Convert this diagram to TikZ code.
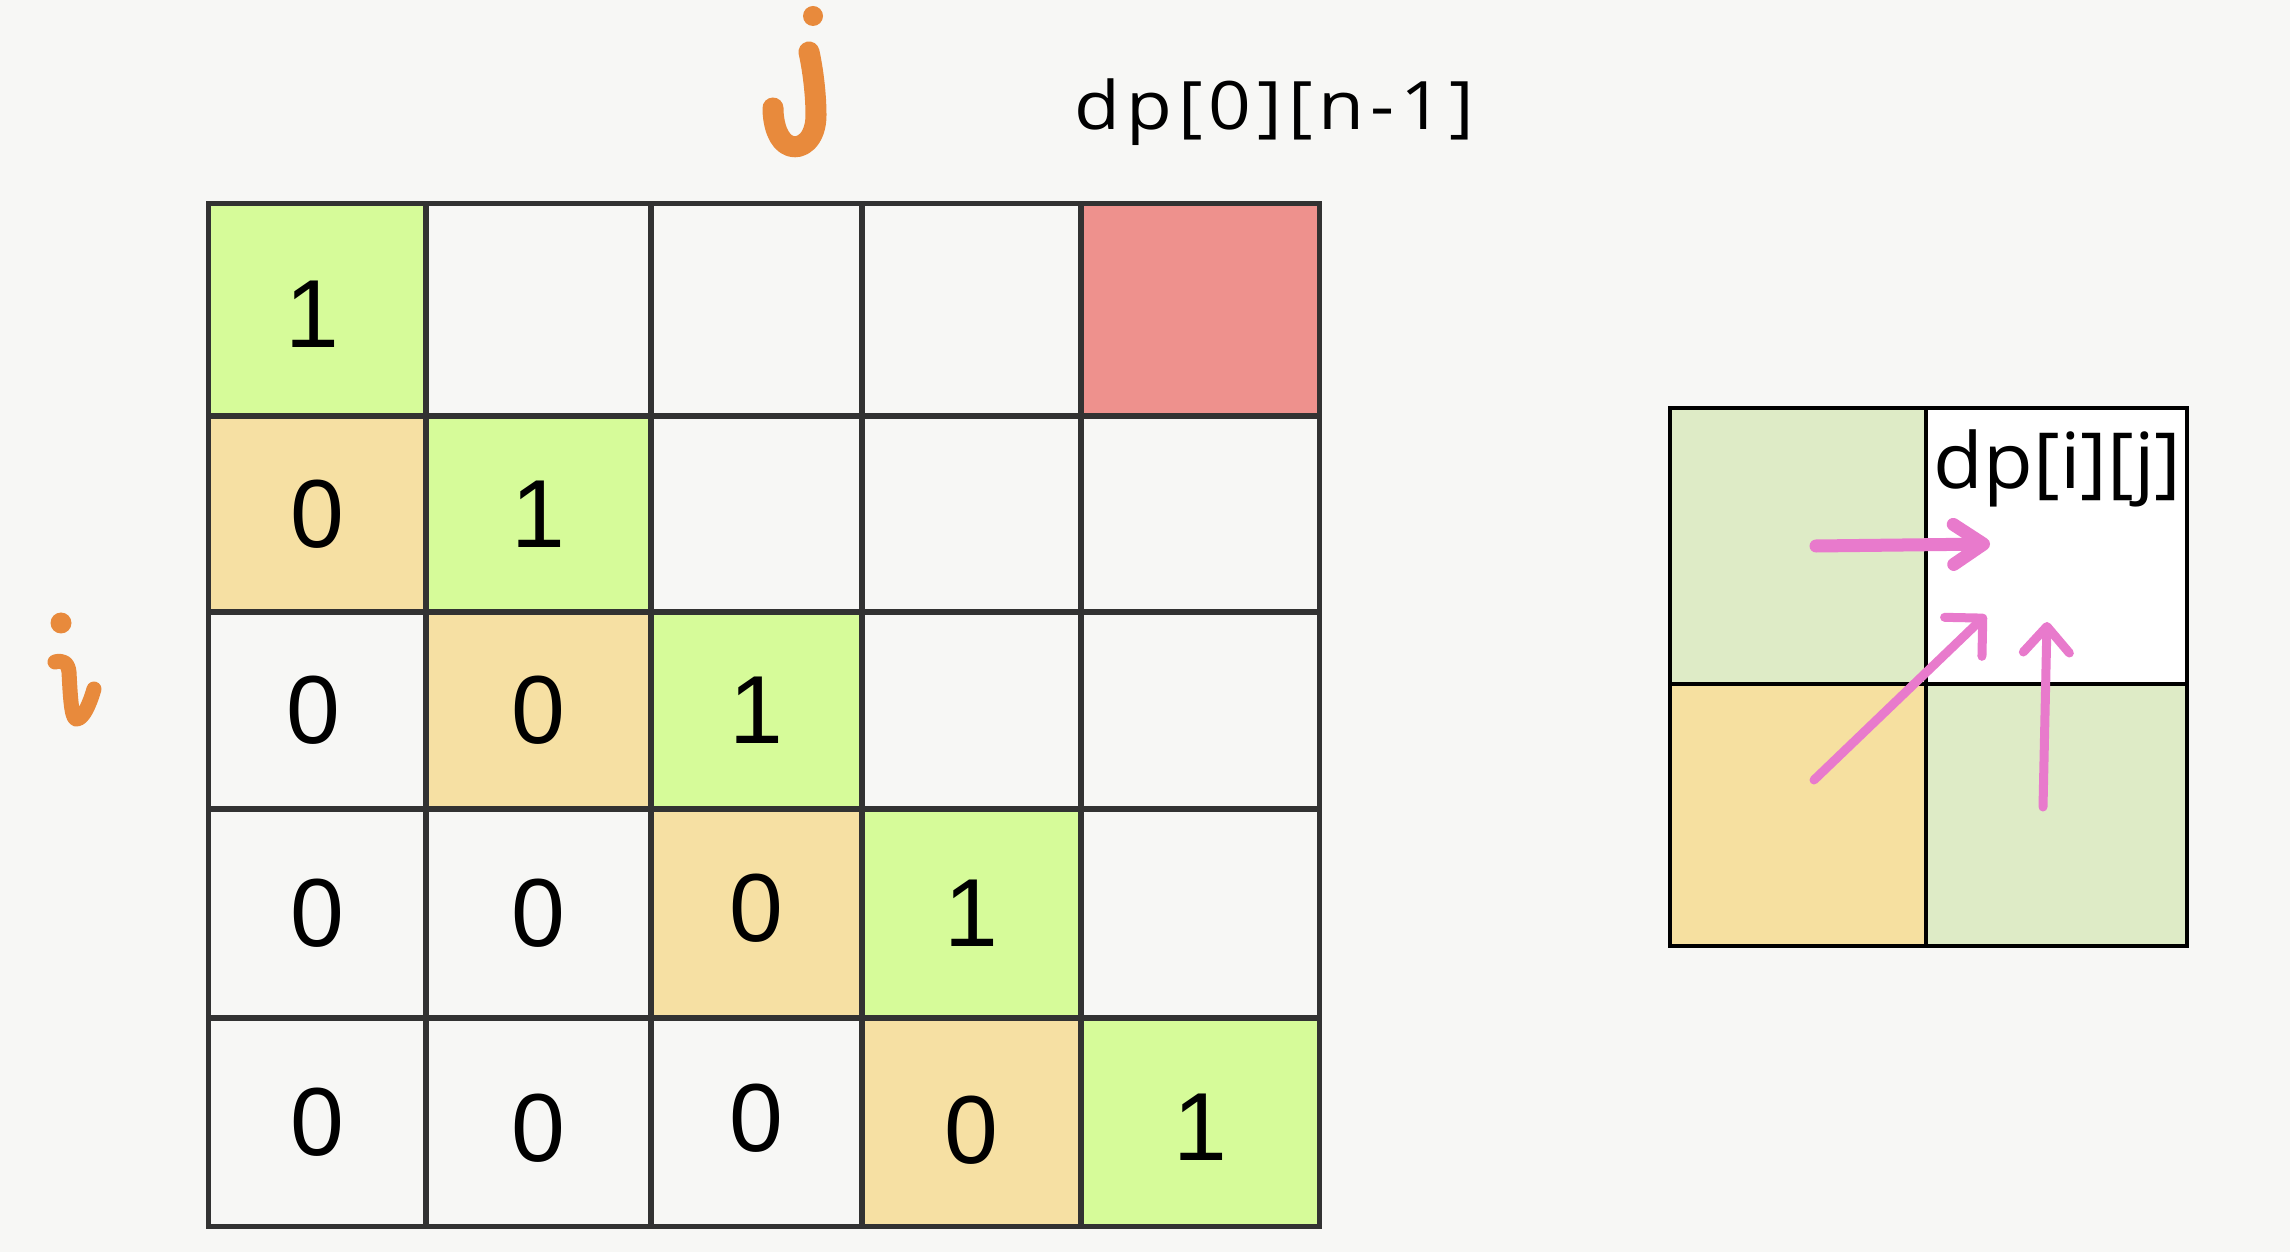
\documentclass[tikz,border=0pt]{standalone}
\usepackage{fontspec}
\setmainfont{Liberation Sans}
\newfontfamily\dpfont{Open Sans}
\newfontfamily\dpfontsp[LetterSpace=8]{Open Sans}
\usetikzlibrary{arrows.meta}
\definecolor{bgc}{RGB}{247,247,245}
\definecolor{gridc}{RGB}{50,50,50}
\definecolor{lgreen}{RGB}{214,251,153}
\definecolor{ltan}{RGB}{246,224,163}
\definecolor{lred}{RGB}{238,145,141}
\definecolor{sgreen}{RGB}{222,235,198}
\definecolor{stan}{RGB}{246,224,160}
\definecolor{pinkc}{RGB}{232,122,204}
\definecolor{orangec}{RGB}{232,138,60}
\tikzset{
  cellbox/.style={draw=gridc, line width=0.05cm, inner sep=0pt, fill=none},
  digit/.style={inner sep=0pt, font=\fontsize{27.5}{32}\selectfont, text=black},
  scell/.style={draw=black, line width=0.045cm, inner sep=0pt},
  pinkline/.style={draw=pinkc, line cap=round, line join=round},
  handstroke/.style={draw=orangec, line cap=round, line join=round}
}
\begin{document}
\begin{tikzpicture}[x=0.01cm,y=-0.01cm]
\fill[bgc] (0,0) rectangle (2290,1252);
\useasboundingbox (0,0) rectangle (2290,1252);
% coloured cells of the main table
\fill[lgreen] (209,204) rectangle (426,416);
\fill[lgreen] (426,416) rectangle (651,612);
\fill[lgreen] (651,612) rectangle (862,809);
\fill[lgreen] (862,809) rectangle (1081,1018);
\fill[lgreen] (1081,1018) rectangle (1319,1226);
\fill[ltan] (209,416) rectangle (426,612);
\fill[ltan] (426,612) rectangle (651,809);
\fill[ltan] (651,809) rectangle (862,1018);
\fill[ltan] (862,1018) rectangle (1081,1226);
\fill[lred] (1081,204) rectangle (1319,416);
% grid of the main table
\foreach \c/\cx/\cw in {0/317.5/2.17,1/538.5/2.25,2/756.5/2.11,3/971.5/2.19,4/1200/2.38}
  \foreach \r/\ry/\rh in {0/310/2.12,1/514/1.96,2/710.5/1.97,3/913.5/2.09,4/1122/2.08}
    \node[cellbox, minimum width=\cw cm, minimum height=\rh cm] (c\r\c) at (\cx,\ry) {};
% digits
\node[digit] (d00) at ([xshift=-0.05cm,yshift=-0.04cm]c00) {1};
\node[digit] (d10) at (c10) {0};
\node[digit] (d11) at (c11) {1};
\node[digit] (d20) at ([xshift=-0.04cm]c20) {0};
\node[digit] (d21) at (c21) {0};
\node[digit] (d22) at (c22) {1};
\node[digit] (d30) at (c30) {0};
\node[digit] (d31) at (c31) {0};
\node[digit] (d32) at ([yshift=0.05cm]c32) {0};
\node[digit] (d33) at (c33) {1};
\node[digit] (d40) at (c40) {0};
\node[digit] (d41) at ([yshift=-0.06cm]c41) {0};
\node[digit] (d42) at ([yshift=0.04cm]c42) {0};
\node[digit] (d43) at ([yshift=-0.08cm]c43) {0};
\node[digit] (d44) at ([yshift=-0.05cm]c44) {1};
% label dp[0][n-1]
\node[anchor=base west, inner sep=0pt, font=\dpfontsp\fontsize{19}{22}\selectfont] (top) at (1074,130) {\scalebox{1.12}[1]{dp[0][n-1]}};
% small table
\node[scell, fill=sgreen, minimum width=2.56cm, minimum height=2.76cm] (s00) at (1798,546) {};
\node[scell, fill=white, minimum width=2.61cm, minimum height=2.76cm] (s01) at (2056.5,546) {};
\node[scell, fill=stan, minimum width=2.56cm, minimum height=2.62cm] (s10) at (1798,815) {};
\node[scell, fill=sgreen, minimum width=2.61cm, minimum height=2.62cm] (s11) at (2056.5,815) {};
\node[anchor=base west, inner sep=0pt, font=\dpfont\fontsize{22}{26}\selectfont] (lbl) at (1933,489) {\scalebox{1.05}[1]{dp[i][j]}};
% arrows
\coordinate (a1s) at (1816,546);
\coordinate (a1e) at (1990,544);
\coordinate (a2s) at (1814,780);
\coordinate (a2e) at (1986,615);
\coordinate (a3s) at (2043,807);
\coordinate (a3e) at (2047,622);
\draw[pinkline, line width=0.13cm, -{Straight Barb[length=0.3cm,width=0.4cm,round]}] (a1s) -- (a1e);
\draw[pinkline, line width=0.09cm, -{Straight Barb[length=0.27cm,width=0.54cm,round]}] (a2s) -- (a2e);
\draw[pinkline, line width=0.09cm, -{Straight Barb[length=0.26cm,width=0.46cm,round]}] (a3s) -- (a3e);
% hand-written j
\fill[orangec] (813,16) circle (10);
\draw[handstroke, line width=0.21cm] (809,52) .. controls (813,70) and (816,95) .. (816,115) .. controls (816,140) and (801,150) .. (790,146) .. controls (778,142) and (773,124) .. (773,108);
% hand-written i
\fill[orangec] (61,623) circle (10.5);
\draw[handstroke, line width=0.15cm] (55,662) .. controls (62,660) and (68,662) .. (69,672) .. controls (70,690) and (71,718) .. (76,719) .. controls (83,720) and (90,703) .. (94,689);
\end{tikzpicture}
\end{document}
